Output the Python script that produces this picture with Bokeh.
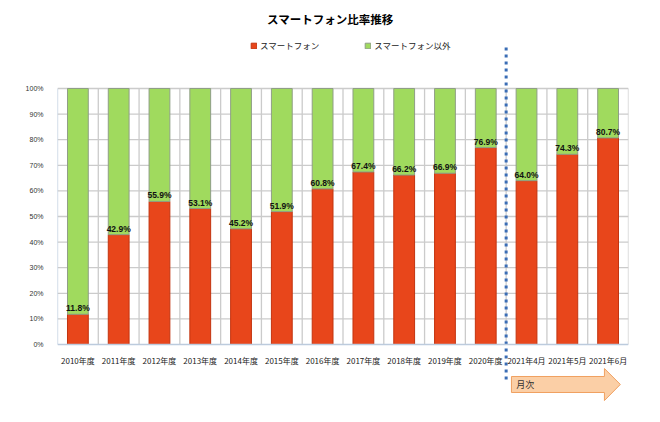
from bokeh.plotting import figure
from bokeh.models import FactorRange, Range1d, FixedTicker, PrintfTickFormatter, Label, ColumnDataSource
from bokeh.core.properties import value
from bokeh.embed import file_html
from bokeh.resources import INLINE

# ---- data ----
categories = ["2010年度", "2011年度", "2012年度", "2013年度", "2014年度", "2015年度",
              "2016年度", "2017年度", "2018年度", "2019年度", "2020年度",
              "2021年4月", "2021年5月", "2021年6月"]
smartphone = [11.8, 42.9, 55.9, 53.1, 45.2, 51.9, 60.8, 67.4, 66.2, 66.9, 76.9, 64.0, 74.3, 80.7]
other = [88.2, 57.1, 44.1, 46.9, 54.8, 48.1, 39.2, 32.6, 33.8, 33.1, 23.1, 36.0, 25.7, 19.3]
series_names = ["スマートフォン", "スマートフォン以外"]
yticks = [0, 10, 20, 30, 40, 50, 60, 70, 80, 90, 100]
title_text = "スマートフォン比率推移"
arrow_text = "月次"

RED, RED_LINE = "#E8461B", "#C3340F"
GREEN, GREEN_LINE = "#A0DA5E", "#8F9E86"
GRID = "#CBCBCB"
JP = "Noto Sans CJK JP"

n = len(categories)
split = sum(1 for c in categories if c.endswith("年度"))

src = ColumnDataSource(dict(cat=categories, smart=smartphone, other=other,
                            lbl=[f"{v:.1f}%" for v in smartphone]))

p = figure(x_range=FactorRange(*categories, range_padding=0),
           y_range=Range1d(-23.44, 130.47),
           width=644, height=406, output_backend="svg", toolbar_location=None,
           min_border_left=57, min_border_right=16, min_border_top=10, min_border_bottom=2)
p.outline_line_color = None
p.xgrid.visible = False
p.ygrid.visible = False
p.background_fill_color = "white"

# grid lines
p.segment(x0=[0] * len(yticks[1:]), x1=[n] * len(yticks[1:]), y0=yticks[1:], y1=yticks[1:],
          line_color=GRID, line_width=1.3)
p.segment(x0=list(range(1, n + 1)), x1=list(range(1, n + 1)), y0=[0] * n, y1=[100] * n,
          line_color=GRID, line_width=1.3)
p.segment(x0=[0], x1=[0], y0=[0], y1=[100], line_color="#BCCBDD", line_width=1.3)

# stacked bars
p.vbar_stack(["smart", "other"], x="cat", width=0.51, source=src,
             fill_color=[RED, GREEN], line_color=[RED_LINE, GREEN_LINE], line_width=1,
             legend_label=series_names)

# value labels
p.text(x="cat", y="smart", text="lbl", source=src, text_align="center", text_baseline="bottom",
       y_offset=-1, text_font=value("Liberation Sans"), text_font_style="bold",
       text_font_size="8.5px", text_color="#111111")

# divider
p.segment(x0=[split], x1=[split], y0=[116], y1=[-15.2], line_color="#3A6DB5",
          line_width=3, line_dash="3 4")

# arrow "月次"
p.patch(x=[11.13, 13.41, 13.41, 13.80, 13.41, 13.41, 11.13],
        y=[-12.5, -12.5, -9.4, -15.6, -21.9, -18.75, -18.75],
        fill_color="#FBCFA6", line_color="#F0A060", line_width=1)
p.add_layout(Label(x=11.25, y=-15.6, text=arrow_text, text_align="left", text_baseline="middle",
                   text_font=JP, text_font_size="9px", text_color="#333333"))

# title
p.add_layout(Label(x=6.69, y=127, text=title_text, text_align="center", text_baseline="middle",
                   text_font=JP, text_font_style="bold", text_font_size="11.5px", text_color="#000000"))

# axes
p.yaxis.bounds = (0, 100)
p.yaxis.ticker = FixedTicker(ticks=yticks)
p.yaxis.formatter = PrintfTickFormatter(format="%d%%")
p.yaxis.axis_line_color = None
p.yaxis.major_tick_line_color = None
p.yaxis.minor_tick_line_color = None
p.yaxis.major_label_standoff = 8
p.yaxis.major_label_text_font = "Liberation Sans"
p.yaxis.major_label_text_font_size = "7px"
p.yaxis.major_label_text_color = "#333333"

p.xaxis.fixed_location = 0
p.xaxis.axis_line_color = "#BCCBDD"
p.xaxis.axis_line_width = 1.3
p.xaxis.major_tick_line_color = None
p.xaxis.minor_tick_line_color = None
p.xaxis.major_label_standoff = 5
p.xaxis.major_label_text_font = JP
p.xaxis.major_label_text_font_size = "8px"
p.xaxis.major_label_text_color = "#222222"

# legend
lg = p.legend[0]
lg.orientation = "horizontal"
lg.location = (193, 353)
lg.glyph_width = 7
lg.glyph_height = 7
lg.label_height = 12
lg.label_standoff = 3
lg.spacing = 45
lg.padding = 0
lg.margin = 0
lg.border_line_color = None
lg.background_fill_alpha = 0
lg.label_text_font = JP
lg.label_text_font_size = "8.5px"
lg.label_text_color = "#222222"

open("out.html", "w").write(file_html(p, INLINE))
